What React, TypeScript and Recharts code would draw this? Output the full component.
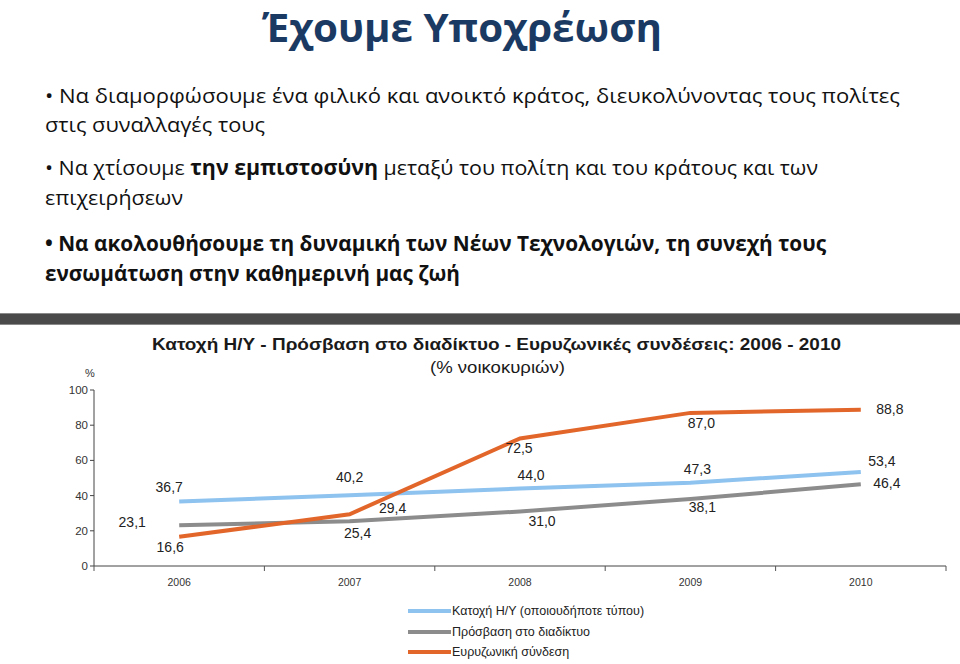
import React from "react";
import { LineChart, Line, XAxis, YAxis, LabelList } from "recharts";

const years = ["2006", "2007", "2008", "2009", "2010"];
const pcOwnership = [36.7, 40.2, 44.0, 47.3, 53.4];
const internetAccess = [23.1, 25.4, 31.0, 38.1, 46.4];
const broadband = [16.6, 29.4, 72.5, 87.0, 88.8];
const yTicks = [0, 20, 40, 60, 80, 100];

const seriesNames = [
  "Κατοχή Η/Υ (οποιουδήποτε τύπου)",
  "Πρόσβαση στο διαδίκτυο",
  "Ευρυζωνική σύνδεση",
];
const seriesColors = ["#8ec2ef", "#8c8c8c", "#e2662a"];

// label offsets (dx, dy) relative to each point
const pcLabelOffsets = [[-10, -14], [0, -18], [11, -14], [7, -14], [21, -11]];
const netLabelOffsets = [[-47, -3], [8, 12], [22, 10], [12, 8], [26, -1]];
const bbLabelOffsets = [[-9, 10], [43, -6], [-1, 10], [11, 10], [29, -1]];

const data = years.map((y, i) => ({
  year: y,
  pc: pcOwnership[i],
  net: internetAccess[i],
  bb: broadband[i],
}));

const fmt = (v: number) => v.toFixed(1).replace(".", ",");

const makeLabel = (offsets: number[][]) => (props: any) => {
  const { x, y, value, index } = props;
  const [dx, dy] = offsets[index];
  return (
    <text
      x={x + dx}
      y={y + dy}
      textAnchor="middle"
      dominantBaseline="central"
      fontFamily="'Liberation Sans', Arial, sans-serif"
      fontSize={14}
      fill="#222"
    >
      {fmt(value)}
    </text>
  );
};

const XTick = (props: any) => {
  const { x, y, payload, index, width } = props;
  const half = width / years.length / 2;
  return (
    <g>
      <line x1={x + half} y1={y - 8} x2={x + half} y2={y - 3} stroke="#555" />
      {index === 0 && (
        <line x1={x - half} y1={y - 8} x2={x - half} y2={y - 3} stroke="#555" />
      )}
      <text
        x={x}
        y={y + 12}
        textAnchor="middle"
        fontFamily="'Liberation Sans', Arial, sans-serif"
        fontSize={10.5}
        fill="#333"
      >
        {payload.value}
      </text>
    </g>
  );
};

const LegendBox = () => (
  <div style={{ position: "absolute", left: 408, top: 601 }}>
    {seriesNames.map((n, i) => (
      <div
        key={n}
        style={{ display: "flex", alignItems: "center", height: 20.5 }}
      >
        <div style={{ width: 43, height: 4, background: seriesColors[i] }} />
        <span
          style={{
            fontFamily: "'Liberation Sans', Arial, sans-serif",
            fontSize: 12.5,
            color: "#222",
            marginLeft: 1,
          }}
        >
          {n}
        </span>
      </div>
    ))}
  </div>
);

const bodyFont = "'Open Sans', 'Noto Sans', sans-serif";

export default function App() {
  return (
    <div
      style={{
        position: "absolute",
        left: 0,
        top: 0,
        width: 960,
        height: 664,
        background: "#fff",
        overflow: "hidden",
      }}
    >
      <svg
        width={960}
        height={664}
        style={{ position: "absolute", left: 0, top: 0 }}
      >
        <text
          x={262}
          y={42}
          textLength={400}
          lengthAdjust="spacingAndGlyphs"
          fontFamily={bodyFont}
          fontWeight={700}
          fontSize={40}
          fill="#1b3a63"
        >
          Έχουμε  Υποχρέωση
        </text>
        <g fontFamily={bodyFont} fontSize={20.5} fill="#111">
          <text x={45} y={103} textLength={855} lengthAdjust="spacingAndGlyphs">
            • Να διαμορφώσουμε ένα  φιλικό και ανοικτό κράτος, διευκολύνοντας τους πολίτες
          </text>
          <text x={45} y={132} textLength={220} lengthAdjust="spacingAndGlyphs">
            στις συναλλαγές τους
          </text>
          <text x={45} y={175} textLength={773} lengthAdjust="spacingAndGlyphs">
            • Να χτίσουμε <tspan fontWeight={700}>την εμπιστοσύνη</tspan> μεταξύ του πολίτη και του κράτους και των
          </text>
          <text x={45} y={205} textLength={138} lengthAdjust="spacingAndGlyphs">
            επιχειρήσεων
          </text>
          <text
            x={45}
            y={251}
            textLength={781}
            lengthAdjust="spacingAndGlyphs"
            fontWeight={700}
          >
            • Να ακολουθήσουμε τη δυναμική των Νέων Τεχνολογιών, τη συνεχή τους
          </text>
          <text
            x={45}
            y={281}
            textLength={415}
            lengthAdjust="spacingAndGlyphs"
            fontWeight={700}
          >
            ενσωμάτωση στην καθημερινή μας ζωή
          </text>
        </g>
        <rect x={0} y={313} width={960} height={12} fill="#4a4a4a" />
        <line x1={0} y1={313.5} x2={960} y2={313.5} stroke="#8a8a8a" />
        <line x1={0} y1={324.5} x2={960} y2={324.5} stroke="#8a8a8a" />
        <text
          x={152}
          y={350}
          textLength={689}
          lengthAdjust="spacingAndGlyphs"
          fontFamily="'Liberation Sans', Arial, sans-serif"
          fontWeight={700}
          fontSize={17}
          fill="#1a1a1a"
        >
          Κατοχή Η/Υ - Πρόσβαση στο διαδίκτυο - Ευρυζωνικές συνδέσεις: 2006 - 2010
        </text>
        <text
          x={430}
          y={373}
          textLength={135}
          lengthAdjust="spacingAndGlyphs"
          fontFamily="'Liberation Sans', Arial, sans-serif"
          fontSize={16}
          fill="#1a1a1a"
        >
          (% νοικοκυριών)
        </text>
        <text
          x={85}
          y={377}
          fontFamily="'Liberation Sans', Arial, sans-serif"
          fontSize={11}
          fill="#333"
        >
          %
        </text>
      </svg>
      <div style={{ position: "absolute", left: 0, top: 0 }}>
        <LineChart
          width={960}
          height={664}
          data={data}
          margin={{ top: 390, right: 14, left: 0, bottom: 68 }}
        >
          <XAxis
            dataKey="year"
            scale="band"
            height={30}
            axisLine={{ stroke: "#444" }}
            tickLine={false}
            tick={<XTick />}
            interval={0}
          />
          <YAxis
            width={94}
            domain={[0, 100]}
            ticks={yTicks}
            axisLine={{ stroke: "#444" }}
            tickLine={{ stroke: "#444" }}
            tickSize={4}
            tick={{
              fontFamily: "'Liberation Sans', Arial, sans-serif",
              fontSize: 11.5,
              fill: "#333",
            }}
          />
          <Line
            dataKey="pc"
            stroke={seriesColors[0]}
            strokeWidth={4}
            dot={false}
            isAnimationActive={false}
          >
            <LabelList dataKey="pc" content={makeLabel(pcLabelOffsets)} />
          </Line>
          <Line
            dataKey="net"
            stroke={seriesColors[1]}
            strokeWidth={4}
            dot={false}
            isAnimationActive={false}
          >
            <LabelList dataKey="net" content={makeLabel(netLabelOffsets)} />
          </Line>
          <Line
            dataKey="bb"
            stroke={seriesColors[2]}
            strokeWidth={4}
            dot={false}
            isAnimationActive={false}
          >
            <LabelList dataKey="bb" content={makeLabel(bbLabelOffsets)} />
          </Line>
        </LineChart>
      </div>
      <LegendBox />
    </div>
  );
}
